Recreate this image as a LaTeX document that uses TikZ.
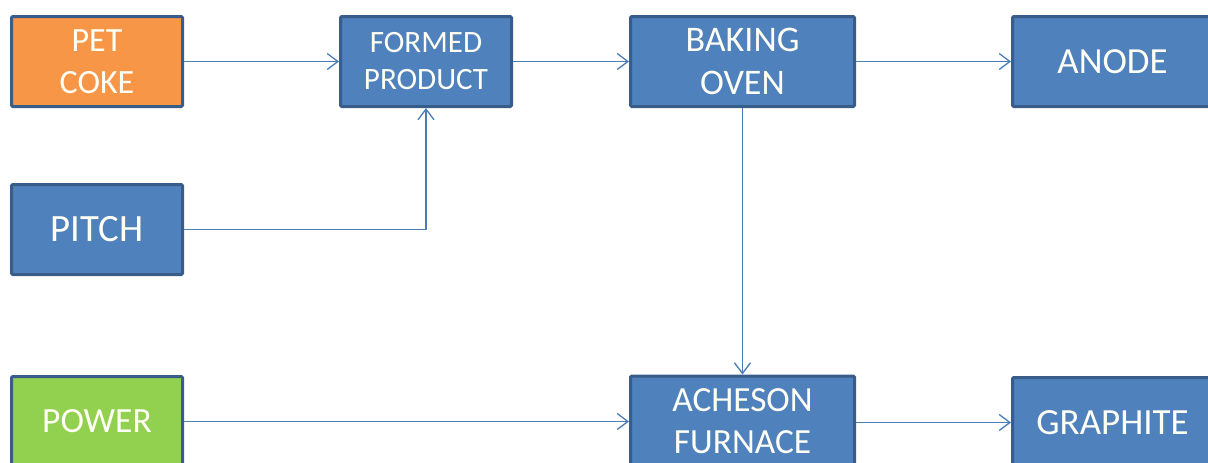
\documentclass[tikz,border=0pt]{standalone}
\usepackage{fontspec}
\setmainfont{Carlito}
\usetikzlibrary{arrows.meta}

\definecolor{boxblue}{RGB}{79,129,189}
\definecolor{boxedge}{RGB}{56,93,138}
\definecolor{boxorange}{RGB}{247,150,70}
\definecolor{boxgreen}{RGB}{146,208,80}
\definecolor{flowline}{RGB}{74,126,187}
\definecolor{boxtext}{RGB}{255,255,245}

\tikzset{
  stage/.style={draw=boxedge, line width=2.25pt, fill=boxblue, rounded corners=1pt,
    text=boxtext, align=center, inner sep=0pt,
    minimum width=128.25pt, minimum height=67.5pt},
  widestage/.style={stage, minimum width=168pt},
  endstage/.style={stage, minimum width=150pt},
  flow/.style={draw=flowline, line width=1pt, -{Straight Barb[length=8pt,width=12pt]}}
}

\begin{document}
\begin{tikzpicture}[x=0.75pt,y=0.75pt,yscale=-1,xscale=1]
	\useasboundingbox (0,0) rectangle (1208,462);

	%Shape: Rectangle (inputs)
	\node [stage, fill=boxorange, font=\fontsize{25.5}{31.5}\selectfont] (petcoke) at (97,61.5) {PET\\COKE};
	\node [stage, font=\fontsize{29}{35}\selectfont] (pitch) at (97,229.5) {PITCH};
	\node [stage, fill=boxgreen, font=\fontsize{26.6}{32}\selectfont] (power) at (97,421.5) {POWER};

	%Shape: Rectangle (process)
	\node [stage, font=\fontsize{23.3}{27.75}\selectfont] (formed) at (426,61.5) {FORMED\\PRODUCT};
	\node [widestage, font=\fontsize{27}{32}\selectfont] (baking) at (742.5,61.5) {BAKING\\OVEN};
	\node [widestage, font=\fontsize{26.5}{31.5}\selectfont] (acheson) at (742.5,421) {ACHESON\\FURNACE};

	%Shape: Rectangle (products)
	\node [endstage, font=\fontsize{27.6}{33}\selectfont] (anode) at (1112.5,61.5) {ANODE};
	\node [endstage, font=\fontsize{27.7}{33}\selectfont] (graphite) at (1112.5,422.5) {GRAPHITE};

	%Straight Lines
	\draw [flow] (petcoke) -- (formed);
	\draw [flow] (pitch) -| (formed);
	\draw [flow] (formed) -- (baking);
	\draw [flow] (baking) -- (anode);
	\draw [flow] (baking) -- (acheson);
	\draw [flow] (power.east) -- (power.east -| acheson.west);
	\draw [flow] (acheson.east |- graphite) -- (graphite);

\end{tikzpicture}
\end{document}
